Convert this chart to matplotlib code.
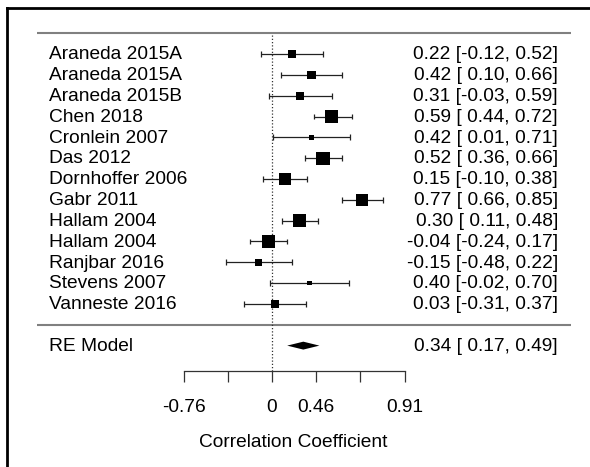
import numpy as np
import matplotlib
matplotlib.use("Agg")
import matplotlib.pyplot as plt
from matplotlib.lines import Line2D

plt.rcParams["font.family"] = ["Liberation Sans", "DejaVu Sans"]

# ----------------------------------------------------------------------
# Data (correlations as printed; plotted on the Fisher-z scale)
# ----------------------------------------------------------------------
studies = ["Araneda 2015A", "Araneda 2015A", "Araneda 2015B", "Chen 2018",
           "Cronlein 2007", "Das 2012", "Dornhoffer 2006", "Gabr 2011",
           "Hallam 2004", "Hallam 2004", "Ranjbar 2016", "Stevens 2007",
           "Vanneste 2016"]
r_est = [0.22, 0.42, 0.31, 0.59, 0.42, 0.52, 0.15, 0.77, 0.30, -0.04, -0.15, 0.40, 0.03]
r_low = [-0.12, 0.10, -0.03, 0.44, 0.01, 0.36, -0.10, 0.66, 0.11, -0.24, -0.48, -0.02, -0.31]
r_high = [0.52, 0.66, 0.59, 0.72, 0.71, 0.66, 0.38, 0.85, 0.48, 0.17, 0.22, 0.70, 0.37]

re_label = "RE Model"
re_est, re_low, re_high = 0.34, 0.17, 0.49

z_ticks = [-1, -0.5, 0, 0.5, 1, 1.5]
tick_labels = ["-0.76", "", "0", "0.46", "", "0.91"]
x_label = "Correlation Coefficient"

# ----------------------------------------------------------------------
# Style
# ----------------------------------------------------------------------
FS = 13.8
C_LINE = "#222222"
C_RULE = "#808080"
C_AXIS = "#333333"

k = len(studies)
rows = np.arange(k, 0, -1)
z = np.arctanh(r_est)
zl = np.arctanh(r_low)
zh = np.arctanh(r_high)

# random-effects weights (DerSimonian-Laird) -> square sizes, metafor style
vi = ((zh - zl) / (2 * 1.96)) ** 2
w = 1 / vi
ybar = np.sum(w * z) / np.sum(w)
Q = np.sum(w * (z - ybar) ** 2)
tau2 = max(0.0, (Q - (k - 1)) / (np.sum(w) - np.sum(w ** 2) / np.sum(w)))
wi = 1 / (vi + tau2)
psize = 0.5 + (wi - wi.min()) / (wi.max() - wi.min())
side_pt = 8.9 * psize * 0.72

fig = plt.figure(figsize=(5.9, 4.67), dpi=100)
ax = fig.add_axes([0, 0, 1, 1])
ax.set_xlim(-3.0769, 3.597)
ax.set_ylim(-6.827, 15.593)

Y_AXIS = -2.218
X_LEFT, X_RIGHT = -2.661, 3.382
X_NAME, X_ANNOT = -2.523, 3.235

# rules and reference line
ax.hlines([k + 1, 0], X_LEFT, X_RIGHT, color=C_RULE, lw=1.5)
ax.vlines(0, Y_AXIS, k + 1, color=C_AXIS, lw=0.9, linestyles=(0, (1, 1.6)))

# confidence intervals
ax.hlines(rows, zl, zh, color=C_LINE, lw=0.9)
ax.vlines(np.concatenate([zl, zh]), np.tile(rows, 2) - 0.14,
          np.tile(rows, 2) + 0.14, color=C_LINE, lw=0.9)
ax.scatter(z, rows, s=side_pt ** 2, marker="s", color="black",
           linewidths=0, zorder=3)

# summary diamond
h = 0.19
ax.fill([np.arctanh(re_low), np.arctanh(re_est), np.arctanh(re_high), np.arctanh(re_est)],
        [-1, -1 + h, -1, -1 - h], color="black", lw=0)

# labels
for row, name, e, lo, hi in zip(rows, studies, r_est, r_low, r_high):
    ax.text(X_NAME, row - 0.25, name, ha="left", va="baseline", fontsize=FS)
    ax.text(X_ANNOT, row - 0.25, f"{e:.2f} [{lo:5.2f}, {hi:.2f}]",
            ha="right", va="baseline", fontsize=FS)
ax.text(X_NAME, -1 - 0.25, re_label, ha="left", va="baseline", fontsize=FS)
ax.text(X_ANNOT, -1 - 0.25, f"{re_est:.2f} [{re_low:5.2f}, {re_high:.2f}]",
        ha="right", va="baseline", fontsize=FS)

# x axis
for s in ("left", "right", "top"):
    ax.spines[s].set_visible(False)
ax.spines["bottom"].set_position(("data", Y_AXIS))
ax.spines["bottom"].set_bounds(z_ticks[0], z_ticks[-1])
ax.spines["bottom"].set_color(C_AXIS)
ax.spines["bottom"].set_linewidth(0.9)
ax.set_yticks([])
ax.set_xticks(z_ticks)
ax.set_xticklabels(tick_labels)
ax.tick_params(axis="x", direction="out", length=7.9, width=0.9, color=C_AXIS,
               labelsize=FS, pad=12)
ax.text(0.243, -5.627, x_label, ha="center", va="center", fontsize=FS)

# outer frame (only top and left edges are inside the crop)
fx, fy = 7.3 / 590, 1 - 8.3 / 467
fig.add_artist(Line2D([fx, fx], [0, fy], transform=fig.transFigure,
                      color="black", lw=2.0))
fig.add_artist(Line2D([fx, 1], [fy, fy], transform=fig.transFigure,
                      color="black", lw=2.0))

fig.savefig("out.png", dpi=100)
